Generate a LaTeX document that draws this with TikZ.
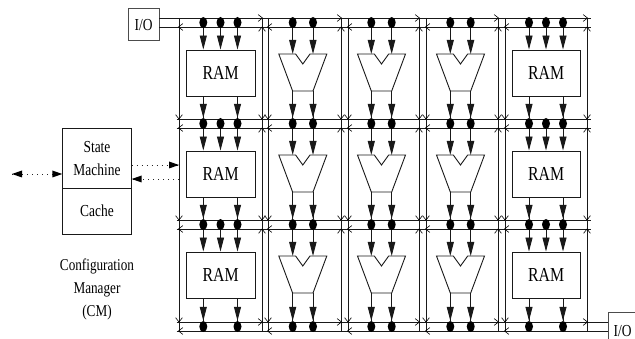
\documentclass[tikz,border=0pt]{standalone}
\usepackage{fontspec}
\setmainfont[FakeStretch=0.8]{Liberation Serif}
\usetikzlibrary{arrows.meta}
\usetikzlibrary{shapes.geometric}
\tikzset{
  wire/.style={line width=0.9pt,black!90},
  bus/.style={line width=0.95pt,black!90},
  link/.style={wire,-{Triangle[length=14pt,width=7pt]}},
  dotlink/.style={line width=0.9pt,dash pattern=on 1.2pt off 3.8pt,black!85},
  tip/.style={fill=black,draw=none},
  tap/.style={ellipse,fill=black,inner sep=0pt,minimum width=8pt,minimum height=11pt},
  rambox/.style={draw=black!90,line width=0.9pt,fill=white,minimum width=68.5pt,minimum height=46pt,inner sep=0pt,font=\fontsize{19.8}{20}\selectfont},
  iobox/.style={draw=black!70,line width=0.9pt,fill=white,minimum width=31pt,minimum height=32pt,inner sep=0pt,font=\fontsize{16.8}{17}\selectfont},
  cmbox/.style={draw=black!90,line width=0.9pt,minimum width=68.5pt,inner sep=0pt,align=center,font=\fontsize{16.8}{23}\selectfont},
  lbl/.style={align=center,inner sep=0pt,font=\fontsize{16.5}{23}\selectfont},
  chev/.style={line width=0.6pt,black}
}
% chevron: apex at (#1,#2), opening toward angle #3
\newcommand{\chv}[3]{\draw[chev] (#1,#2) ++(#3+38:5.5) -- (#1,#2) -- ++(#3-38:5.5);}
\begin{document}
\begin{tikzpicture}[x=1pt,y=-1pt]
\useasboundingbox (0,0) rectangle (635,339);
\begin{scope}
\clip (0,0) rectangle (635,339);
% horizontal buses
\foreach \r/\ya/\yb in {0/18/27,1/119/128,2/220/229,3/322/331}{
  \coordinate (busAl\r) at (176.5,\ya); \coordinate (busAr\r) at (590.5,\ya);
  \coordinate (busBl\r) at (176.5,\yb); \coordinate (busBr\r) at (590.5,\yb);
}
\node[iobox] (ioTop) at (143.5,24.7) {I/O};
\node[iobox,minimum width=36pt] (ioBot) at (626,328) {};
\node[inner sep=0pt,font=\fontsize{16.8}{17}\selectfont] (ioBotText) at (622.5,331) {I/O};
\draw[bus] (ioTop.east |- busAl0) -- (busAr0);
\draw[bus] (ioTop.east |- busBl0) -- (busBr0);
\foreach \r in {1,2}{
  \draw[bus] (busAl\r) -- (busAr\r);
  \draw[bus] (busBl\r) -- (busBr\r);
}
\draw[bus] (busAl3) -- (ioBot.west |- busAl3);
\draw[bus] (busBl3) -- (ioBot.west |- busBl3);
% vertical lines
\foreach \x in {179,262,268,341,348,419,426,498,505,587}{
  \coordinate (vt\x) at (\x,18); \coordinate (vb\x) at (\x,331);
  \draw[bus] (vt\x) -- (vb\x);
}
% crossing marks, left-hand lines of each cell
\foreach \x in {179,268,348,426,505}{
  \chv{\x-0.5}{27}{0}
  \foreach \y in {119,220,322}{ \chv{\x}{\y}{-90} }
  \foreach \y in {128,229,331}{ \chv{\x-0.5}{\y}{0} }
}
% crossing marks, right-hand lines of each cell
\foreach \x in {262,341,419,498,587}{
  \chv{\x+0.5}{18}{180}
  \chv{\x}{27}{90}
  \foreach \y in {119,220}{ \chv{\x}{\y}{-90} \chv{\x}{\y+9}{90} }
  \chv{\x+0.5}{322}{180}
}
% RAM cells
\foreach \r/\yc in {0/73,1/174,2/275}{
  \foreach \c/\xc in {a/220.7,e/546.2}{
    \node[rambox] (ram\c\r) at (\xc,\yc) {RAM};
  }
}
% tap dots
\foreach \c/\xa/\xb/\xm in {a/203.3/237.5/220.5,e/529/563/546}{
  \foreach \r/\y in {0/22.5,1/123.5,2/224.5,3/326.5}{
    \node[tap] (t\c\r l) at (\xa,\y) {};
    \node[tap] (t\c\r r) at (\xb,\y) {};
  }
  \foreach \r/\y in {0/22.5,1/123.5,2/224.5}{
    \node[tap] (t\c\r m) at (\xm,\y) {};
  }
}
\foreach \c/\xa/\xb in {b/292.7/313,c/371.3/391.7,d/450.3/470.7}{
  \foreach \r/\y in {0/22.5,1/123.5,2/224.5,3/326.5}{
    \node[tap] (t\c\r l) at (\xa,\y) {};
    \node[tap] (t\c\r r) at (\xb,\y) {};
  }
}
% RAM links
\foreach \c in {a,e}{
  \foreach \r/\n in {0/1,1/2,2/3}{
    \foreach \s in {l,m,r}{
      \draw[link] (t\c\r\s) -- (t\c\r\s |- ram\c\r.north);
    }
    \foreach \s in {l,r}{
      \draw[wire] (t\c\r\s |- ram\c\r.south) -- (t\c\n\s);
      \draw[link] (t\c\r\s |- ram\c\r.south) -- (t\c\r\s |- t\c\n\s.north);
    }
  }
}
% multiplexers
\foreach \c/\xm in {b/302.8,c/381.5,d/460.5}{
  \foreach \r/\n/\yo in {0/1/18,1/2/119,2/3/220}{
    \coordinate (m\c\r a) at (\xm-24,\yo+36);
    \coordinate (m\c\r b) at (\xm-7.2,\yo+36);
    \coordinate (m\c\r n) at (\xm,\yo+46);
    \coordinate (m\c\r d) at (\xm+7.2,\yo+36);
    \coordinate (m\c\r e) at (\xm+24,\yo+36);
    \coordinate (m\c\r f) at (\xm+10.2,\yo+73);
    \coordinate (m\c\r g) at (\xm-10.2,\yo+73);
    \draw[wire] (m\c\r a) -- (m\c\r b) -- (m\c\r n) -- (m\c\r d) -- (m\c\r e) -- (m\c\r f) -- (m\c\r g) -- cycle;
    \foreach \s in {l,r}{
      \draw[link] (t\c\r\s) -- (t\c\r\s |- m\c\r a);
      \draw[wire] (t\c\r\s |- m\c\r g) -- (t\c\n\s);
      \draw[link] (t\c\r\s |- m\c\r g) -- (t\c\r\s |- t\c\n\s.north);
    }
  }
}
% configuration manager
\node[cmbox,minimum height=59.7pt] (sm) at (97,158.2) {State\\Machine};
\node[cmbox,minimum height=46pt,yshift=-2pt] (cache) at (97,209) {Cache};
\node[lbl] (cm) at (97,289.5) {Configuration\\Manager\\(CM)};
\coordinate (extL) at (12,174);
\coordinate (inR) at (179,165);
\coordinate (inL) at (179,179);
% dotted connectors
\draw[dotlink] (extL) -- (sm.west |- extL);
\fill[tip] (extL) -- ++(10,-3.5) -- ++(0,7) -- cycle;
\fill[tip] (sm.west |- extL) -- ++(-10,-3.5) -- ++(0,7) -- cycle;
\draw[dotlink] (sm.east |- inR) -- (inR);
\fill[tip] (inR) -- ++(-10,-3.5) -- ++(0,7) -- cycle;
\draw[dotlink] (inL) -- (sm.east |- inL);
\fill[tip] (sm.east |- inL) -- ++(10,-3.5) -- ++(0,7) -- cycle;
\end{scope}
\end{tikzpicture}
\end{document}
